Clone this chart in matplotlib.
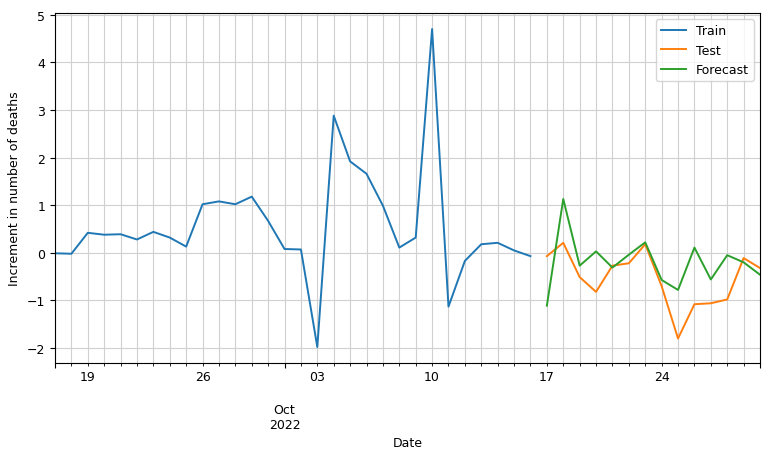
import matplotlib
matplotlib.use("Agg")
import matplotlib.pyplot as plt
import pandas as pd

# daily increments
train_start = "2022-09-17"
train_values = [-0.01, -0.02, 0.42, 0.38, 0.39, 0.28, 0.44, 0.32, 0.13, 1.02,
                1.08, 1.02, 1.18, 0.67, 0.08, 0.07, -1.98, 2.88, 1.92, 1.66,
                0.99, 0.11, 0.32, 4.70, -1.13, -0.17, 0.18, 0.21, 0.05, -0.07]

test_start = "2022-10-17"
test_values = [-0.07, 0.21, -0.51, -0.82, -0.27, -0.22, 0.18, -0.70, -1.80,
               -1.08, -1.06, -0.98, -0.11, -0.32]
forecast_values = [-1.11, 1.13, -0.27, 0.03, -0.31, -0.04, 0.22, -0.57, -0.78,
                   0.11, -0.56, -0.05, -0.20, -0.46]

train = pd.Series(train_values,
                  index=pd.date_range(train_start, periods=len(train_values), freq="D", name="Date"))
test = pd.Series(test_values,
                 index=pd.date_range(test_start, periods=len(test_values), freq="D", name="Date"))
forecast = pd.Series(forecast_values,
                     index=pd.date_range(test_start, periods=len(forecast_values), freq="D", name="Date"))

plt.rcParams["font.size"] = 9

fig, ax = plt.subplots(figsize=(7.68, 4.56), dpi=100)
fig.subplots_adjust(left=0.0716, right=0.9896, top=0.969, bottom=0.2018)

train.plot(ax=ax, label="Train", linewidth=1.4)
test.plot(ax=ax, label="Test", linewidth=1.4)
forecast.plot(ax=ax, label="Forecast", linewidth=1.4)

ax.grid(True, which="both", color="#d0d0d0", linewidth=0.8)
ax.set_xlabel("Date")
ax.set_ylabel("Increment in number of deaths")
ax.legend(loc="upper right")

plt.savefig("out.png", dpi=100)
